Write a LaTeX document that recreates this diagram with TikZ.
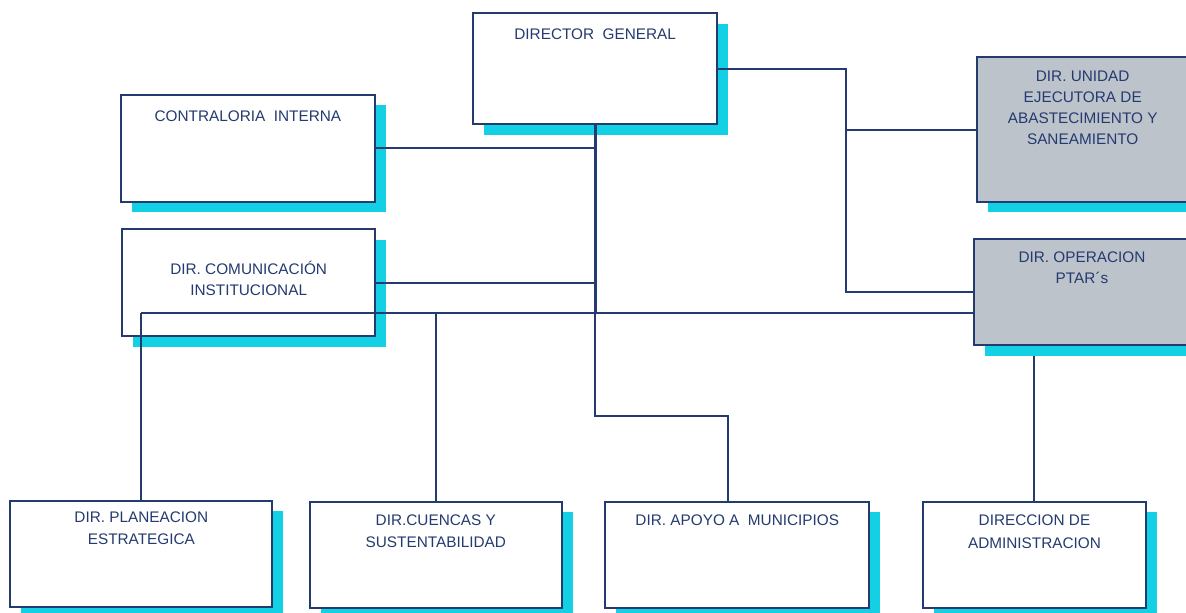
\documentclass[tikz,border=0pt]{standalone}
\usepackage{fontspec}
\setmainfont{Liberation Sans}
\usetikzlibrary{shadows,calc}
\definecolor{navy}{RGB}{36,59,112}
\definecolor{shcyan}{RGB}{20,208,228}
\definecolor{boxgray}{RGB}{189,195,203}
\tikzset{
  orgbox/.style 2 args={draw=navy, line width=1.6pt, fill=white, inner sep=0pt, outer sep=0pt,
    anchor=north west, minimum width=#1*0.75pt, minimum height=#2*0.75pt,
    drop shadow={shadow xshift=8.25pt, shadow yshift=-7.9pt, fill=shcyan, draw=none, opacity=1}},
  graybox/.style={fill=boxgray},
  txt/.style={anchor=north, inner sep=0pt, outer sep=0pt, align=center, text=navy,
    font=\fontsize{11.5pt}{15.75pt}\selectfont},
  txtlow/.style={txt, font=\fontsize{11.5pt}{16.8pt}\selectfont},
  conn/.style={draw=navy, line width=1.5pt},
  connthick/.style={draw=navy, line width=2.1pt}
}
\begin{document}
\begin{tikzpicture}[x=0.75pt,y=-0.75pt]
\useasboundingbox (0,0) rectangle (1186,612);
\fill[white] (0,0) rectangle (1186,612);
\clip (0,0) rectangle (1186,612);
% boxes
\node[orgbox={243.6}{111}] (dg) at (473.4,13.3) {};
\node[orgbox={254.3}{107}] (ci) at (120.7,94.7) {};
\node[orgbox={252.6}{106.7}] (dc) at (122.4,229.3) {};
\node[orgbox={212}{144.4}, graybox] (ue) at (976.7,57.3) {};
\node[orgbox={216}{106.3}, graybox] (op) at (974,239) {};
\node[orgbox={262.1}{106.3}] (pe) at (10.3,500.7) {};
\node[orgbox={252.4}{106.6}] (cs) at (309.6,501.7) {};
\node[orgbox={264}{106.6}] (am) at (605.3,501.7) {};
\node[orgbox={223}{106.6}] (ad) at (923,501.7) {};
% texts
\node[txt, yshift=-11.55pt] (dgt) at (dg.north) {DIRECTOR~~GENERAL};
\node[txt, yshift=-11.85pt] (cit) at (ci.north) {CONTRALORIA~~INTERNA};
\node[txt, yshift=-25.5pt] (dct) at (dc.north) {DIR. COMUNICACI\smash{Ó}N\\INSTITUCIONAL};
\node[txt, yshift=-10.05pt] (uet) at (ue.north) {DIR. UNIDAD\\EJECUTORA DE\\ABASTECIMIENTO Y\\SANEAMIENTO};
\node[txt, yshift=-9.5pt] (opt) at (op.north) {DIR. OPERACION\\PTAR´s};
\node[txtlow, yshift=-8.25pt] (pet) at (pe.north) {DIR. PLANEACION\\ESTRATEGICA};
\node[txtlow, yshift=-9.45pt] (cst) at (cs.north) {DIR.CUENCAS Y\\SUSTENTABILIDAD};
\node[txtlow, yshift=-10pt] (amt) at (am.north) {DIR. APOYO A~~MUNICIPIOS};
\node[txtlow, yshift=-10pt] (adt) at (ad.north) {DIRECCION DE\\ADMINISTRACION};
% junction coordinates
\coordinate (jr) at (845.7,0);
\coordinate (bus) at (0,313);
\coordinate (apk) at (727.5,416);
\coordinate (adx) at (1033.5,0);
\coordinate (ads) at ($(op.south)+(0,10.5)$);
% connectors
\draw[conn] (dg.east) -- (dg.east -| jr) |- (ue.west);
\draw[conn] (dg.east -| jr) |- (op.west);
\draw[conn] (ci.east) -- (ci.east -| dg.south);
\draw[conn] (dc.east) -- (dc.east -| dg.south);
\draw[conn] (pe.north |- bus) -- (op.west |- bus);
\draw[connthick] (cs.north |- bus) -- (dg.south |- bus);
\draw[conn] (pe.north) -- (pe.north |- bus);
\draw[conn] (cs.north) -- (cs.north |- bus);
\draw[connthick] (dg.south) -- (dg.south |- bus);
\draw[conn] (dg.south |- bus) |- (apk) -- (apk |- am.north);
\draw[conn] (ads -| adx) -- (ad.north -| adx);
\end{tikzpicture}
\end{document}
